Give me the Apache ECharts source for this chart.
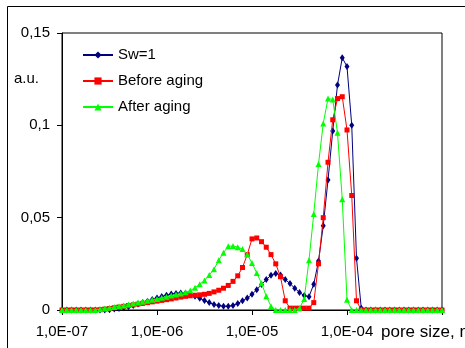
<!DOCTYPE html>
<html>
<head>
<meta charset="utf-8">
<script src="https://cdn.jsdelivr.net/npm/echarts@6/dist/echarts.min.js"></script>
<style>
html,body{margin:0;padding:0;background:#fff;}
#chart{width:465px;height:348px;}
</style>
</head>
<body>
<div id="chart"></div>
<script>
// pore size bins (m), 20 per decade
var poreSize = [
1.000e-7,1.122e-7,1.259e-7,1.413e-7,1.585e-7,1.778e-7,1.995e-7,2.239e-7,2.512e-7,2.818e-7,
3.162e-7,3.548e-7,3.981e-7,4.467e-7,5.012e-7,5.623e-7,6.310e-7,7.079e-7,7.943e-7,8.913e-7,
1.000e-6,1.122e-6,1.259e-6,1.413e-6,1.585e-6,1.778e-6,1.995e-6,2.239e-6,2.512e-6,2.818e-6,
3.162e-6,3.548e-6,3.981e-6,4.467e-6,5.012e-6,5.623e-6,6.310e-6,7.079e-6,7.943e-6,8.913e-6,
1.000e-5,1.122e-5,1.259e-5,1.413e-5,1.585e-5,1.778e-5,1.995e-5,2.239e-5,2.512e-5,2.818e-5,
3.162e-5,3.548e-5,3.981e-5,4.467e-5,5.012e-5,5.623e-5,6.310e-5,7.079e-5,7.943e-5,8.913e-5,
1.000e-4,1.122e-4,1.259e-4,1.413e-4,1.585e-4,1.778e-4,1.995e-4,2.239e-4,2.512e-4,2.818e-4,
3.162e-4,3.548e-4,3.981e-4,4.467e-4,5.012e-4,5.623e-4,6.310e-4,7.079e-4,7.943e-4,8.913e-4,
1.000e-3
];
var sw1 = [
0,0,0,0,0,0,0,0,0,0,
0.0002,0.0005,0.0008,0.0012,0.0018,0.0025,0.0032,0.004,0.0048,0.0057,
0.0065,0.0073,0.008,0.0086,0.009,0.0092,0.0091,0.0085,0.0075,0.0063,
0.0051,0.004,0.003,0.0024,0.002,0.002,0.0025,0.0035,0.005,0.0065,
0.0085,0.011,0.0138,0.0165,0.0188,0.0198,0.019,0.0165,0.0143,0.0118,
0.0095,0.0078,0.0072,0.014,0.0265,0.0456,0.0704,0.0969,0.1218,0.1366,
0.1318,0.100,0.028,0.001,0,0,0,0,0,0,
0,0,0,0,0,0,0,0,0,0,
0
];
var beforeAging = [
0,0,0,0,0,0,0,0,0.0002,0.0005,
0.0008,0.0012,0.0016,0.002,0.0024,0.0028,0.0032,0.0036,0.004,0.0044,
0.0048,0.0052,0.0056,0.006,0.0065,0.007,0.0074,0.0077,0.008,0.0082,
0.0085,0.009,0.0098,0.0107,0.0118,0.0133,0.0155,0.0185,0.023,0.030,
0.0385,0.039,0.037,0.034,0.030,0.025,0.018,0.005,0.001,0.001,
0.001,0.001,0.001,0.004,0.025,0.050,0.080,0.103,0.1145,0.1155,
0.0975,0.062,0.005,0,0,0,0,0,0,0,
0,0,0,0,0,0,0,0,0,0,
0
];
var afterAging = [
0,0,0,0,0,0,0,0,0.0004,0.0008,
0.0012,0.0016,0.002,0.0025,0.003,0.0035,0.004,0.0045,0.005,0.0055,
0.006,0.0066,0.0072,0.0078,0.0084,0.009,0.0096,0.0105,0.012,0.014,
0.016,0.019,0.022,0.027,0.031,0.0345,0.0347,0.034,0.033,0.030,
0.0255,0.020,0.0145,0.0075,0.002,0,0,0,0,0,
0.001,0.006,0.027,0.052,0.079,0.101,0.1145,0.114,0.096,0.060,
0.0055,0,0,0,0,0,0,0,0,0,
0,0,0,0,0,0,0,0,0,0,
0
];
var seriesNames = ['Sw=1','Before aging','After aging'];
var yTicks = [0, 0.05, 0.1, 0.15];

function pairs(ys){ return ys.map(function(y,i){ return [poreSize[i], y]; }); }

var chart = echarts.init(document.getElementById('chart'), null, {renderer:'canvas'});
var font = 'Arial, "Liberation Sans", sans-serif';
chart.setOption({
  animation:false,
  backgroundColor:'#fff',
  textStyle:{fontFamily:font},
  grid:{left:62, top:33, right:23, bottom:38, show:true, borderColor:'#000', borderWidth:1, backgroundColor:'#fff'},
  legend:{
    orient:'vertical', left:77, top:42, itemWidth:30, itemHeight:9, itemGap:10,
    textStyle:{fontSize:15, color:'#000', fontFamily:font, lineHeight:16},
    data:seriesNames
  },
  xAxis:{
    type:'log', logBase:10, min:1e-7, max:1e-3, interval:1,
    axisLine:{lineStyle:{color:'#000', width:1}},
    axisTick:{show:true, inside:false, length:5, lineStyle:{color:'#000'}},
    minorTick:{show:false},
    splitLine:{show:false},
    axisLabel:{
      fontSize:15, color:'#000', margin:14, fontFamily:font,
      formatter:function(v){
        var e = Math.round(Math.log(v)/Math.LN10);
        if (e >= -3) return '';
        var a = Math.abs(e);
        return '1,0E' + (e<0?'-':'+') + (a<10?'0':'') + a;
      }
    }
  },
  yAxis:{
    type:'value', min:yTicks[0], max:yTicks[yTicks.length-1], interval:0.05,
    axisLine:{show:true, lineStyle:{color:'#000', width:1}},
    axisTick:{show:true, inside:false, length:5, lineStyle:{color:'#000'}},
    splitLine:{show:false},
    axisLabel:{
      fontSize:15, color:'#000', margin:12, fontFamily:font,
      formatter:function(v){ return v===0 ? '0' : String(+v.toFixed(2)).replace('.', ','); }
    }
  },
  graphic:[
    {type:'rect', shape:{x:7.5, y:6.5, width:600, height:500}, style:{fill:'none', stroke:'#000', lineWidth:1}, silent:true, z:-1},
    {type:'text', left:14, top:71, style:{text:'a.u.', font:'15px ' + font, fill:'#000'}},
    {type:'text', left:381, top:324, style:{text:'pore size, m', font:'17px ' + font, fill:'#000'}}
  ],
  series:[
    {name:seriesNames[0], type:'line', data:pairs(sw1), symbol:'diamond', symbolSize:[5,7],
     lineStyle:{color:'#000080', width:1}, itemStyle:{color:'#000080'}, z:2},
    {name:seriesNames[1], type:'line', data:pairs(beforeAging), symbol:'rect', symbolSize:5,
     lineStyle:{color:'#ff0000', width:1}, itemStyle:{color:'#ff0000'}, z:3},
    {name:seriesNames[2], type:'line', data:pairs(afterAging), symbol:'triangle', symbolSize:6,
     lineStyle:{color:'#00ff00', width:1}, itemStyle:{color:'#00ff00'}, z:4}
  ]
});
</script>
</body>
</html>
